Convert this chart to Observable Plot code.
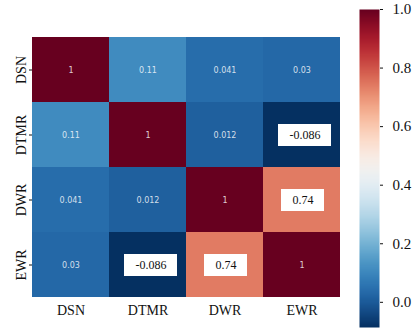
<!DOCTYPE html>
<html>
<head>
<meta charset="utf-8">
<script src="https://cdn.jsdelivr.net/npm/d3@7"></script>
<script src="https://cdn.jsdelivr.net/npm/@observablehq/plot@0.6"></script>
<style>
  body { margin: 0; background: #fff; }
  #chart { position: relative; width: 412px; height: 330px; }
  #chart svg { position: absolute; top: 0; overflow: visible; background: transparent; }
</style>
</head>
<body>
<div id="chart"></div>
<script>
// Correlation matrix of the four variables
const variables = ["DSN", "DTMR", "DWR", "EWR"];
const rowDSN  = [1, 0.11, 0.041, 0.03];
const rowDTMR = [0.11, 1, 0.012, -0.086];
const rowDWR  = [0.041, 0.012, 1, 0.74];
const rowEWR  = [0.03, -0.086, 0.74, 1];
const matrix = [rowDSN, rowDTMR, rowDWR, rowEWR];

// Pairs whose coefficients are called out in boxes
const emphasized = [["DTMR", "EWR"], ["DWR", "EWR"]];

// Colour bar ticks
const barTicks = [0.0, 0.2, 0.4, 0.6, 0.8, 1.0];

const cells = variables.flatMap((row, i) =>
  variables.map((col, j) => ({row, col, value: matrix[i][j]}))
);
const isEmphasized = d => emphasized.some(([a, b]) =>
  (d.row === a && d.col === b) || (d.row === b && d.col === a));

const values = cells.map(d => d.value);
const lo = d3.min(values), hi = d3.max(values);
const color = {type: "linear", scheme: "rdbu", reverse: true, domain: [lo, hi]};

const plain = cells.filter(d => !isEmphasized(d));
const negBox = cells.filter(d => isEmphasized(d) && d.value < 0);
const posBox = cells.filter(d => isEmphasized(d) && d.value > 0);

const heat = Plot.plot({
  width: 350,
  height: 330,
  marginLeft: 32,
  marginRight: 10,
  marginTop: 37,
  marginBottom: 33,
  style: {fontFamily: "Liberation Serif", fontSize: "14px", color: "#111", background: "transparent"},
  x: {domain: variables, padding: 0, label: null, tickSize: 0, tickPadding: 8},
  y: {domain: variables, padding: 0, label: null, tickSize: 3, tickPadding: 4, tickRotate: -90},
  color,
  marks: [
    Plot.cell(cells, {x: "col", y: "row", fill: "value"}),
    Plot.text(plain, {
      x: "col", y: "row", text: d => String(d.value),
      fill: "white", fillOpacity: 0.8, fontSize: 8, fontFamily: "DejaVu Sans"
    }),
    Plot.cell(negBox, {x: "col", y: "row", fill: "white", insetLeft: 15, insetRight: 9, insetTop: 22, insetBottom: 21}),
    Plot.text(negBox, {
      x: "col", y: "row", text: d => String(d.value), dx: 3,
      fill: "#111", fontSize: 12, fontFamily: "Liberation Serif"
    }),
    Plot.cell(posBox, {x: "col", y: "row", fill: "white", insetLeft: 18, insetRight: 16, insetTop: 22, insetBottom: 21}),
    Plot.text(posBox, {
      x: "col", y: "row", text: d => String(d.value), dx: 1,
      fill: "#111", fontSize: 12, fontFamily: "Liberation Serif"
    })
  ]
});

const bar = Plot.plot({
  width: 72,
  height: 330,
  marginLeft: 19,
  marginRight: 33,
  marginTop: 9,
  marginBottom: 3,
  style: {fontFamily: "Liberation Serif", fontSize: "15px", color: "#111", background: "transparent"},
  x: {domain: [0, 1], axis: null},
  y: {domain: [lo, hi], axis: "right", ticks: barTicks, tickFormat: d => d.toFixed(1),
      tickSize: 3, tickPadding: 10, label: null},
  color,
  marks: [
    Plot.raster({x1: 0, x2: 1, y1: lo, y2: hi, width: 1, height: 300, fill: (x, y) => y})
  ]
});
bar.style.left = "340px";
heat.style.left = "0px";

const chart = document.getElementById("chart");
chart.append(heat, bar);
</script>
</body>
</html>
